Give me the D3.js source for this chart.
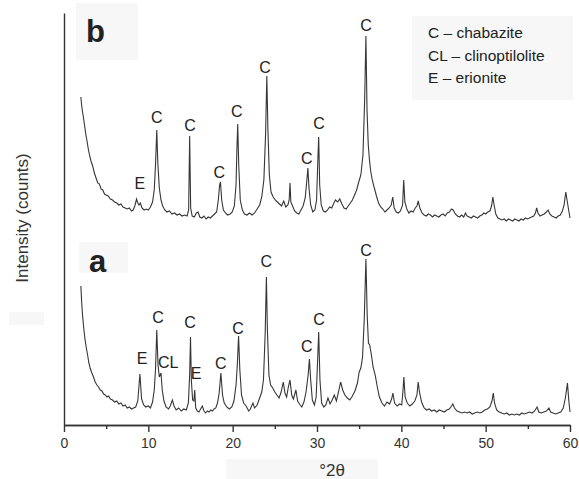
<!DOCTYPE html>
<html>
<head>
<meta charset="utf-8">
<script src="https://cdn.jsdelivr.net/npm/d3@7"></script>
<style>
  body { margin: 0; background: #fff; }
  svg { display: block; font-family: "Liberation Sans", Arial, sans-serif; }
  .axis path, .axis line { stroke: #333; stroke-width: 1.4; }
  .axis text { font-size: 14px; fill: #333; }
</style>
</head>
<body>
<div id="chart"></div>
<script>
// XRD patterns, [2theta, intensity]
var patternA = [[2.0,139],[2.1,122],[2.2,110],[2.35,96],[2.5,85],[2.65,77],[2.8,70],[2.95,62],[3.1,57],[3.3,52],[3.5,48],[3.7,43],[3.9,40],[4.1,38],[4.3,35],[4.5,34],[4.7,31],[4.9,30],[5.1,28],[5.3,29],[5.5,26],[5.75,25],[6.0,23],[6.25,24],[6.5,21],[6.75,22],[7.0,19],[7.25,20],[7.5,17],[7.75,18],[8.0,16],[8.25,17],[8.5,18],[8.75,24],[9.0,51],[9.2,26],[9.45,20],[9.7,18],[10.0,19],[10.25,17],[10.5,23],[10.7,35],[10.85,55],[11.0,95],[11.15,60],[11.3,48],[11.5,52],[11.65,35],[11.85,24],[12.1,18],[12.4,16],[12.6,19],[12.85,25],[13.05,19],[13.3,15],[13.6,17],[13.9,14],[14.2,16],[14.5,15],[14.75,22],[14.9,50],[15.0,88],[15.1,45],[15.25,25],[15.4,24],[15.5,35],[15.62,17],[15.8,14],[16.0,13],[16.2,16],[16.4,19],[16.6,14],[16.8,12],[17.0,14],[17.2,13],[17.4,15],[17.6,14],[17.8,16],[18.0,17],[18.2,22],[18.4,32],[18.6,52],[18.8,30],[19.0,22],[19.3,18],[19.6,16],[19.9,18],[20.15,24],[20.4,40],[20.55,60],[20.7,89],[20.85,55],[21.05,30],[21.3,22],[21.6,19],[21.9,14],[22.1,16],[22.4,22],[22.6,17],[22.9,20],[23.2,27],[23.45,33],[23.65,45],[23.85,90],[24.0,148],[24.12,95],[24.3,50],[24.5,40],[24.75,37],[25.0,33],[25.25,30],[25.5,27],[25.75,33],[26.0,43],[26.2,32],[26.4,28],[26.6,38],[26.8,45],[27.0,30],[27.2,26],[27.5,35],[27.7,24],[28.0,20],[28.2,18],[28.45,23],[28.7,33],[28.95,50],[29.1,66],[29.25,45],[29.45,25],[29.7,20],[29.9,28],[30.05,60],[30.2,93],[30.35,45],[30.55,22],[30.8,18],[31.05,20],[31.3,27],[31.55,21],[31.8,25],[32.05,30],[32.3,24],[32.55,33],[32.8,43],[33.05,35],[33.3,30],[33.6,27],[33.9,25],[34.2,29],[34.5,34],[34.8,42],[35.0,53],[35.2,57],[35.4,68],[35.6,105],[35.8,166],[35.95,110],[36.1,82],[36.25,80],[36.45,70],[36.65,58],[36.9,50],[37.15,38],[37.4,28],[37.7,22],[38.0,19],[38.3,23],[38.6,21],[38.85,26],[39.0,32],[39.2,22],[39.5,19],[39.8,21],[40.05,20],[40.2,35],[40.3,48],[40.45,28],[40.7,22],[41.0,19],[41.3,21],[41.6,24],[41.85,30],[42.0,43],[42.15,33],[42.4,23],[42.7,17],[43.0,15],[43.3,16],[43.6,14],[43.9,15],[44.2,13],[44.5,15],[44.8,14],[45.1,13],[45.4,15],[45.7,16],[45.95,19],[46.1,21],[46.3,17],[46.6,14],[46.9,13],[47.2,12],[47.5,13],[47.8,12],[48.1,13],[48.4,11],[48.7,12],[49.0,13],[49.3,12],[49.6,13],[49.9,15],[50.2,16],[50.5,18],[50.75,24],[50.9,32],[51.05,22],[51.3,15],[51.6,13],[51.9,12],[52.2,11],[52.5,12],[52.8,10],[53.1,11],[53.4,10],[53.7,11],[54.0,10],[54.3,12],[54.6,11],[54.9,12],[55.2,13],[55.5,12],[55.8,14],[56.1,18],[56.3,13],[56.6,12],[56.9,13],[57.2,14],[57.5,17],[57.7,13],[58.0,12],[58.3,11],[58.6,12],[58.9,13],[59.2,17],[59.45,27],[59.7,42],[59.85,25],[60.0,13]];

var patternB = [[2.0,133],[2.1,124],[2.2,118],[2.3,113],[2.45,104],[2.6,95],[2.75,88],[2.9,80],[3.05,74],[3.2,69],[3.4,64],[3.6,57],[3.8,52],[4.0,47],[4.2,46],[4.4,41],[4.6,40],[4.8,36],[5.0,35],[5.25,34],[5.5,31],[5.75,30],[6.0,28],[6.25,27],[6.5,25],[6.75,26],[7.0,23],[7.25,22],[7.5,21],[7.75,22],[8.0,19],[8.2,20],[8.4,24],[8.6,31],[8.75,27],[8.9,25],[9.05,27],[9.25,22],[9.5,20],[9.75,21],[10.0,20],[10.25,23],[10.5,28],[10.7,40],[10.85,65],[11.0,100],[11.12,68],[11.3,42],[11.5,30],[11.7,24],[11.95,20],[12.2,18],[12.5,19],[12.8,16],[13.1,17],[13.4,15],[13.7,16],[14.0,14],[14.3,15],[14.6,14],[14.78,20],[14.9,94],[15.02,22],[15.2,14],[15.45,13],[15.7,17],[15.9,18],[16.1,13],[16.35,12],[16.6,14],[16.85,11],[17.1,13],[17.35,12],[17.6,14],[17.85,16],[18.1,18],[18.3,30],[18.45,45],[18.55,48],[18.7,30],[18.9,20],[19.15,17],[19.4,15],[19.7,16],[19.95,18],[20.2,24],[20.4,45],[20.5,80],[20.6,106],[20.72,65],[20.9,30],[21.15,20],[21.4,16],[21.7,15],[22.0,17],[22.3,15],[22.6,17],[22.9,21],[23.2,25],[23.45,33],[23.7,50],[23.9,95],[24.05,154],[24.18,100],[24.35,55],[24.55,38],[24.8,33],[25.05,30],[25.3,28],[25.55,26],[25.8,24],[26.05,29],[26.3,23],[26.55,25],[26.7,30],[26.8,47],[26.9,28],[27.1,24],[27.35,19],[27.6,17],[27.85,16],[28.1,20],[28.35,24],[28.6,32],[28.8,50],[28.92,62],[29.05,42],[29.25,25],[29.5,18],[29.75,20],[29.95,30],[30.1,70],[30.2,93],[30.32,45],[30.5,25],[30.75,19],[31.0,18],[31.25,20],[31.5,23],[31.75,22],[32.0,27],[32.2,30],[32.45,28],[32.7,31],[32.95,26],[33.2,22],[33.45,21],[33.7,24],[33.95,27],[34.2,30],[34.45,35],[34.7,40],[34.95,48],[35.2,55],[35.45,75],[35.65,130],[35.8,194],[35.93,120],[36.08,85],[36.2,72],[36.35,60],[36.55,50],[36.8,42],[37.05,34],[37.3,27],[37.55,23],[37.8,21],[38.05,18],[38.3,20],[38.55,22],[38.8,25],[38.98,33],[39.15,22],[39.4,18],[39.65,17],[39.9,19],[40.15,25],[40.28,50],[40.42,28],[40.65,21],[40.9,17],[41.15,19],[41.4,18],[41.65,22],[41.85,24],[42.0,29],[42.2,22],[42.45,17],[42.7,15],[42.95,14],[43.2,16],[43.45,15],[43.7,13],[43.95,15],[44.2,14],[44.45,13],[44.7,15],[44.95,16],[45.2,14],[45.45,17],[45.7,18],[45.95,21],[46.15,20],[46.4,16],[46.65,14],[46.9,13],[47.15,15],[47.4,13],[47.6,17],[47.8,14],[48.05,13],[48.3,12],[48.55,14],[48.8,13],[49.05,12],[49.3,14],[49.55,15],[49.8,17],[50.0,16],[50.25,18],[50.5,19],[50.7,24],[50.85,33],[51.0,25],[51.2,16],[51.45,12],[51.7,11],[51.95,10],[52.2,11],[52.45,9],[52.7,11],[52.95,10],[53.2,9],[53.45,11],[53.7,10],[53.95,9],[54.2,11],[54.45,10],[54.7,12],[54.95,11],[55.2,12],[55.45,13],[55.7,14],[55.9,17],[56.05,22],[56.2,17],[56.45,14],[56.7,15],[56.95,16],[57.2,18],[57.4,20],[57.6,16],[57.85,14],[58.1,13],[58.35,12],[58.6,14],[58.85,15],[59.1,19],[59.3,25],[59.5,38],[59.65,30],[59.8,22],[60.0,12]];

var offsetB = 195;   // pattern b is stacked above a

// phase marks: [label, 2theta, intensity of the label]
var labelsA = [["E",9.25,67],["C",11.15,108],["CL",12.35,63],["C",14.95,103],["E",15.65,52],["C",18.6,62],["C",20.65,97],["C",24.0,164],["C",28.8,79],["C",30.25,106],["C",35.8,175]];
var labelsB = [["E",9.0,47],["C",11.0,113],["C",14.95,105],["C",18.4,58],["C",20.5,119],["C",23.85,163],["C",28.8,72],["C",30.25,107],["C",35.8,205]];

var legendItems = ["C \u2013 chabazite", "CL \u2013 clinoptilolite", "E \u2013 erionite"];
var majorTicks = [0, 10, 20, 30, 40, 50, 60];
var minorTicks = [5, 15, 25, 35, 45, 55];

var W = 579, H = 479;
var margin = {top: 13, right: 9, bottom: 54, left: 64},
    width = W - margin.left - margin.right,
    height = H - margin.top - margin.bottom;

var svg = d3.select("#chart").append("svg")
    .attr("width", W)
    .attr("height", H);

// faint scan boxes from the original figure
var boxes = [[76, 3, 62, 57], [79, 242, 49, 31], [412, 16, 161, 84], [9, 312, 35, 13], [226, 459, 152, 20]];
svg.selectAll("rect.bg").data(boxes).enter().append("rect")
    .attr("class", "bg")
    .attr("x", function(d) { return d[0]; })
    .attr("y", function(d) { return d[1]; })
    .attr("width", function(d) { return d[2]; })
    .attr("height", function(d) { return d[3]; })
    .attr("fill", "#f7f7f7");

var g = svg.append("g").attr("transform", "translate(" + margin.left + "," + margin.top + ")");

var x = d3.scaleLinear().domain([0, 60]).range([0, width]);
var y = d3.scaleLinear().domain([0, height]).range([height, 0]);

var line = d3.line()
    .x(function(d) { return x(d[0]); })
    .y(function(d) { return y(d[1]); });

g.append("path")
    .datum(patternA)
    .attr("fill", "none")
    .attr("stroke", "#363636")
    .attr("stroke-width", 1.1)
    .attr("d", line);

g.append("path")
    .datum(patternB.map(function(d) { return [d[0], d[1] + offsetB]; }))
    .attr("fill", "none")
    .attr("stroke", "#363636")
    .attr("stroke-width", 1.1)
    .attr("d", line);

// peak labels
function drawLabels(data, off) {
  g.append("g")
      .attr("font-size", 16)
      .attr("fill", "#222")
      .attr("text-anchor", "middle")
    .selectAll("text")
    .data(data)
    .enter().append("text")
      .attr("x", function(d) { return x(d[1]); })
      .attr("y", function(d) { return y(d[2] + off); })
      .attr("dy", "0.36em")
      .text(function(d) { return d[0]; });
}
drawLabels(labelsA, 0);
drawLabels(labelsB, offsetB);

// axes
g.append("g")
    .attr("class", "axis")
    .attr("transform", "translate(0," + height + ")")
    .call(d3.axisBottom(x).tickValues(minorTicks).tickSize(4).tickSizeOuter(0).tickFormat(""));

g.append("g")
    .attr("class", "axis")
    .attr("transform", "translate(0," + height + ")")
    .call(d3.axisBottom(x).tickValues(majorTicks).tickSize(7).tickSizeOuter(0).tickPadding(6));

g.append("g")
    .attr("class", "axis")
    .call(d3.axisLeft(y).tickValues([]).tickSizeOuter(0));

g.selectAll(".axis .domain").attr("stroke-width", 1.6);

// axis titles
svg.append("text")
    .attr("transform", "translate(22," + 218 + ") rotate(-90)")
    .attr("text-anchor", "middle")
    .attr("dy", "0.35em")
    .attr("font-size", 17)
    .attr("fill", "#333")
    .text("Intensity (counts)");

svg.append("text")
    .attr("x", margin.left + width / 2 + 15)
    .attr("y", H - 3)
    .attr("text-anchor", "middle")
    .attr("font-size", 17)
    .attr("fill", "#333")
    .text("\u00b02\u03b8");

// panel letters
svg.append("text").attr("x", 86).attr("y", 42)
    .attr("font-size", 31).attr("font-weight", "bold").attr("fill", "#222").text("b");
svg.append("text").attr("x", 89).attr("y", 272)
    .attr("font-size", 31).attr("font-weight", "bold").attr("fill", "#222").text("a");

// legend
svg.append("g")
    .attr("font-size", 15.5)
    .attr("fill", "#222")
  .selectAll("text")
  .data(legendItems)
  .enter().append("text")
    .attr("x", 428)
    .attr("y", function(d, i) { return 33 + i * 22.5; })
    .attr("dy", "0.35em")
    .text(function(d) { return d; });
</script>
</body>
</html>
